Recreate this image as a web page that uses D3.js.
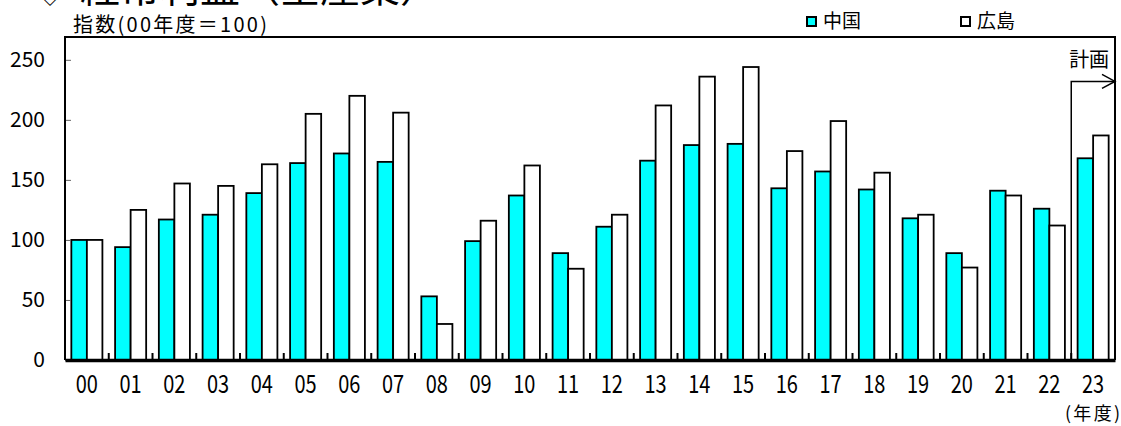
<!DOCTYPE html>
<html>
<head>
<meta charset="utf-8">
<script src="https://cdn.jsdelivr.net/npm/d3@7"></script>
<style>
  body { margin: 0; background: #fff; }
  svg { display: block; }
</style>
</head>
<body>
<div id="chart"></div>
<script>
// 年度ラベル
const years = ['00','01','02','03','04','05','06','07','08','09','10','11',
               '12','13','14','15','16','17','18','19','20','21','22','23'];
// 中国（指数）
const chugoku = [100, 94, 117, 121, 139, 164, 172, 165, 53, 99, 137, 89,
                 111, 166, 179, 180, 143, 157, 142, 118, 89, 141, 126, 168];
// 広島（指数）
const hiroshima = [100, 125, 147, 145, 163, 205, 220, 206, 30, 116, 162, 76,
                   121, 212, 236, 244, 174, 199, 156, 121, 77, 137, 112, 187];
const yTicks = [0, 50, 100, 150, 200, 250];
const seriesNames = ['中国', '広島'];
const planYear = '23';
const planLevel = 232;

const width = 1121, height = 426;
const margin = { top: 37, right: 6, bottom: 66, left: 65 };
const jp = '"Noto Sans CJK JP", "Noto Sans", sans-serif';
const num = '"Noto Sans CJK JP", "Noto Sans", sans-serif';

const svg = d3.select('#chart').append('svg')
    .attr('width', width)
    .attr('height', height);

const x0 = d3.scaleBand()
    .domain(years)
    .range([margin.left, width - margin.right])
    .padding(0);

const x1 = d3.scaleBand()
    .domain(seriesNames)
    .range([x0.bandwidth() * 0.145, x0.bandwidth() * 0.855])
    .padding(0);

const y = d3.scaleLinear()
    .domain([0, 269])
    .range([height - margin.bottom, margin.top]);

const colors = { '中国': '#00ffff', '広島': '#ffffff' };

// タイトル（上部で切れている）
svg.append('text')
    .attr('x', 38)
    .attr('y', 3)
    .attr('font-family', jp)
    .attr('font-size', 24)
    .text('◇');
svg.append('text')
    .attr('x', 80)
    .attr('y', 2)
    .attr('font-family', jp)
    .attr('font-size', 40)
    .attr('fill', '#000')
    .text('経常利益（全産業）');

// 棒
const rows = years.map((yr, i) => ({ yr, values: [
    { key: '中国', value: chugoku[i] },
    { key: '広島', value: hiroshima[i] }
]}));

const groups = svg.append('g').selectAll('g')
    .data(rows)
    .enter().append('g')
    .attr('transform', d => `translate(${x0(d.yr)},0)`);

groups.selectAll('rect')
    .data(d => d.values)
    .enter().append('rect')
    .attr('x', d => x1(d.key))
    .attr('y', d => y(d.value))
    .attr('width', x1.bandwidth())
    .attr('height', d => y(0) - y(d.value))
    .attr('fill', d => colors[d.key])
    .attr('stroke', '#000')
    .attr('stroke-width', 1.8);

// Y軸
const yAxis = svg.append('g')
    .attr('transform', `translate(${margin.left},0)`)
    .call(d3.axisLeft(y).tickValues(yTicks).tickSize(-6).tickPadding(20));
yAxis.select('.domain').remove();
yAxis.selectAll('.tick line').attr('stroke', '#666').attr('stroke-width', 1);
yAxis.selectAll('.tick text')
    .attr('font-family', num)
    .attr('font-size', 21)
    .attr('fill', '#000');

// 枠線
const plotTop = y.range()[1], plotBottom = y.range()[0];
const plotLeft = x0.range()[0], plotRight = x0.range()[1];
svg.append('path')
    .attr('d', `M${plotLeft},${plotBottom} L${plotLeft},${plotTop} L${plotRight},${plotTop} L${plotRight},${plotBottom}`)
    .attr('fill', 'none')
    .attr('stroke', '#000')
    .attr('stroke-width', 2);

// X軸
const xAxis = svg.append('g')
    .attr('transform', `translate(0,${plotBottom})`)
    .call(d3.axisBottom(x0).tickSize(0).tickPadding(15));
xAxis.select('.domain').attr('stroke-width', 3.5);
xAxis.selectAll('.tick text')
    .attr('font-family', num)
    .attr('font-size', 25)
    .attr('transform', 'scale(0.8,1)')
    .attr('fill', '#000');

// 区切り目盛（上向き）
svg.append('g').selectAll('line')
    .data(years.slice(1))
    .enter().append('line')
    .attr('x1', d => x0(d))
    .attr('x2', d => x0(d))
    .attr('y1', plotBottom)
    .attr('y2', plotBottom - 7)
    .attr('stroke', '#000')
    .attr('stroke-width', 2);

// 計画の矢印
const px = x0(planYear), py = y(planLevel);
svg.append('path')
    .attr('d', `M${px},${plotBottom} L${px},${py} L${plotRight},${py}`)
    .attr('fill', 'none')
    .attr('stroke', '#000')
    .attr('stroke-width', 1.5);
svg.append('path')
    .attr('d', `M${plotRight - 13},${py - 7} L${plotRight},${py} L${plotRight - 13},${py + 7}`)
    .attr('fill', 'none')
    .attr('stroke', '#000')
    .attr('stroke-width', 1.5);
svg.append('text')
    .attr('x', (px + plotRight) / 2 - 4)
    .attr('y', py - 14)
    .attr('text-anchor', 'middle')
    .attr('font-family', jp)
    .attr('font-size', 20)
    .text('計画');

// 軸ラベル
svg.append('text')
    .attr('x', 73)
    .attr('y', 32)
    .attr('font-family', jp)
    .attr('font-size', 20)
    .attr('textLength', 194)
    .attr('lengthAdjust', 'spacing')
    .text('指数(00年度＝100)');

svg.append('text')
    .attr('x', 1065)
    .attr('y', 420)
    .attr('font-family', jp)
    .attr('font-size', 18)
    .attr('textLength', 55)
    .attr('lengthAdjust', 'spacing')
    .text('(年度)');

// 凡例
const legendX = [807, 961];
const legend = svg.append('g').selectAll('g')
    .data(seriesNames)
    .enter().append('g')
    .attr('transform', (d, i) => `translate(${legendX[i]},17)`);
legend.append('rect')
    .attr('width', 9)
    .attr('height', 9)
    .attr('fill', d => colors[d])
    .attr('stroke', '#000')
    .attr('stroke-width', 2);
legend.append('text')
    .attr('x', 16)
    .attr('y', 11)
    .attr('font-family', jp)
    .attr('font-size', 19)
    .text(d => d);
</script>
</body>
</html>
